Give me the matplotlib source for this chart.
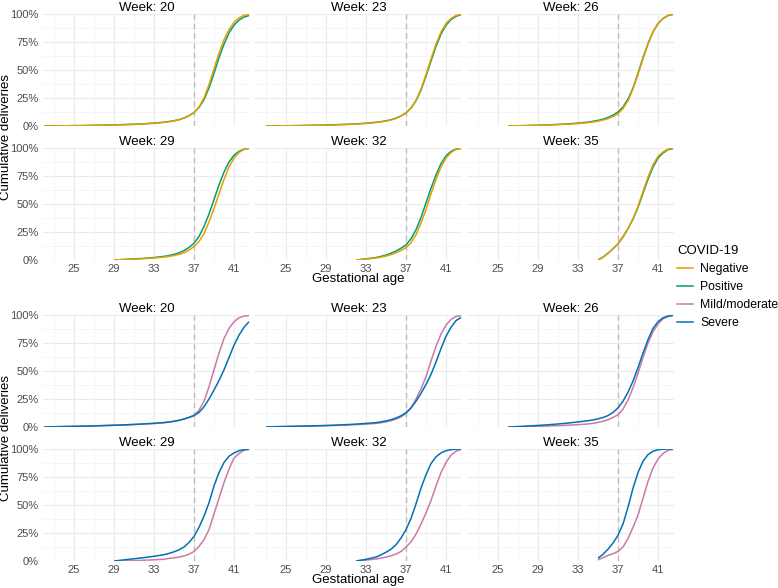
import matplotlib
matplotlib.use('Agg')
import matplotlib.pyplot as plt
from matplotlib.lines import Line2D
import numpy as np

plt.rcParams['font.family'] = ['Liberation Sans', 'DejaVu Sans']

# gestational age grid (weeks); each series covers the tail of it
GA = [22, 23, 24, 25, 26, 27, 28, 29, 30, 31, 32, 33, 34,
      34.5, 35, 35.5, 36, 36.5, 37, 37.5, 38, 38.5, 39, 39.5, 40, 40.5, 41, 41.5, 42, 42.5]

panel_weeks = [20, 23, 26, 29, 32, 35]

# cumulative deliveries (%) - top block
neg_w20 = [0, 0.1, 0.2, 0.3, 0.4, 0.5, 0.7, 0.9, 1.1, 1.4, 1.8, 2.4, 3.2,
           3.8, 4.5, 5.5, 7, 9, 12, 17, 25, 37, 51, 65, 77, 86, 92.5, 96.5, 98.8, 99.7]
pos_w20 = [0, 0.1, 0.2, 0.3, 0.4, 0.6, 0.8, 1.0, 1.3, 1.6, 2.0, 2.6, 3.4,
           4.0, 4.7, 5.7, 7.2, 9.2, 12, 16.5, 23.5, 34, 47, 61, 73, 83, 90, 94.5, 97.3, 98.6]
neg_w23 = [0, 0.1, 0.2, 0.3, 0.4, 0.6, 0.8, 1.0, 1.3, 1.7, 2.3, 3.1,
           3.7, 4.4, 5.4, 6.8, 8.8, 11.5, 16, 23, 33, 46, 60, 73, 84, 91.5, 96, 98.7, 99.7]
pos_w23 = [0, 0.1, 0.2, 0.3, 0.5, 0.7, 0.9, 1.2, 1.5, 1.9, 2.5, 3.3,
           3.9, 4.6, 5.6, 7.0, 9.0, 11.8, 16, 22.5, 32, 44.5, 58, 71, 82, 90, 95, 98, 99.4]
neg_w26 = [0, 0.2, 0.4, 0.6, 0.9, 1.2, 1.6, 2.2, 3.0,
           3.6, 4.3, 5.3, 6.6, 8.5, 11, 15.5, 22.5, 33, 46, 60, 73, 84, 91.5, 96, 98.7, 99.7]
pos_w26 = [0, 0.2, 0.4, 0.7, 1.0, 1.4, 1.9, 2.6, 3.5,
           4.2, 5.0, 6.1, 7.6, 9.7, 12.5, 17, 24, 34, 47, 61, 73.5, 84, 91.5, 96, 98.6, 99.6]
neg_w29 = [0, 0.4, 0.8, 1.2, 1.8, 2.6,
           3.2, 4.0, 5.0, 6.5, 8.8, 12, 16.5, 23.5, 34, 46, 59, 72, 83, 91, 96, 98.8, 99.7]
pos_w29 = [0, 0.5, 1.0, 1.5, 2.2, 3.2,
           4.0, 5.0, 6.4, 8.4, 11.2, 15, 21, 30, 41, 54, 67, 78.5, 87.5, 93.5, 97, 99, 99.7]
neg_w32 = [0, 0.8, 1.8,
           2.6, 3.5, 4.8, 6.4, 8.5, 11, 15.5, 22.5, 33, 45, 59, 72, 83, 91, 96, 98.7, 99.7]
pos_w32 = [0, 1.0, 2.2,
           3.2, 4.4, 6.0, 8.0, 10.5, 13.5, 19, 27, 38, 51, 64, 76, 86, 93, 97, 99, 99.7]
neg_w35 = [0, 2.5, 6, 10, 14.5, 21, 28, 37, 48, 61, 74, 85, 92.5, 96.5, 99, 99.8]
pos_w35 = [0, 2.6, 6, 10, 14.5, 20.5, 28, 36.5, 47, 59.5, 72, 83, 91, 95.5, 98.5, 99.5]

# cumulative deliveries (%) - bottom block
mild_w20 = [0, 0.2, 0.4, 0.6, 0.8, 1.0, 1.2, 1.5, 1.8, 2.2, 2.6, 3.1, 3.8,
            4.3, 5.0, 5.8, 7, 8.5, 10.5, 15, 23, 36, 51, 66, 79, 88, 94, 97.5, 99, 99.6]
sev_w20 = [0, 0.2, 0.4, 0.6, 0.8, 1.0, 1.3, 1.6, 1.9, 2.3, 2.8, 3.3, 4.0,
           4.5, 5.2, 6.0, 7.2, 8.6, 10.2, 13, 18, 25, 33, 41.5, 51, 62, 73, 82, 89, 94]
mild_w23 = [0, 0.2, 0.4, 0.5, 0.7, 0.9, 1.1, 1.4, 1.7, 2.1, 2.6, 3.2,
            3.8, 4.6, 5.6, 7, 9, 12, 17, 25, 34, 45, 59, 72, 83, 91, 96, 98.7, 99.5]
sev_w23 = [0, 0.3, 0.5, 0.7, 0.9, 1.1, 1.4, 1.7, 2.1, 2.6, 3.2, 3.9,
           4.6, 5.4, 6.5, 8, 10, 12.8, 17, 23, 30, 38, 47, 58, 70, 81, 89, 95, 97.8]
mild_w26 = [0, 0.2, 0.4, 0.6, 0.9, 1.2, 1.6, 2.1, 2.7,
            3.3, 4.1, 5.1, 6.5, 8.5, 11, 16, 24, 35, 48, 62, 75, 85, 92, 96.5, 98.7, 99.6]
sev_w26 = [0, 0.4, 0.9, 1.4, 2.0, 2.7, 3.5, 4.5, 5.6,
           6.3, 7.2, 8.5, 10.2, 13, 17, 23, 31, 41, 53, 66, 78, 88, 94, 97.5, 99, 99.6]
mild_w29 = [0, 0.3, 0.7, 1.1, 1.6, 2.3,
            2.8, 3.5, 4.5, 6, 8.5, 13, 19, 28, 42, 56, 70, 82, 92, 96, 98.8, 99.7]
sev_w29 = [0, 1.0, 2.0, 3.0, 4.2, 5.6,
           6.8, 8.2, 10, 12.5, 16.5, 22, 30, 40, 52, 67, 79, 88, 93.5, 96.5, 98.5, 99.5, 99.8]
mild_w32 = [0, 0.8, 1.8,
            2.6, 3.5, 4.7, 6.2, 8.5, 12.5, 17, 24, 33, 43, 54, 67, 79, 88, 94.5, 98, 99.5]
sev_w32 = [0, 1.5, 3.5,
           5.5, 7.8, 10.5, 14.5, 20.5, 28, 38, 51, 65, 77, 87, 93, 96.5, 98.5, 99.4, 99.8, 100]
mild_w35 = [1, 3, 5, 6.5, 8.5, 12.5, 20, 30, 41, 56, 71, 83, 91, 96, 98.8, 99.7]
sev_w35 = [2.5, 6, 10.5, 16, 23, 33, 48, 65, 79, 89, 95, 98, 99.3, 99.8, 100, 100]

neg_all = [neg_w20, neg_w23, neg_w26, neg_w29, neg_w32, neg_w35]
pos_all = [pos_w20, pos_w23, pos_w26, pos_w29, pos_w32, pos_w35]
mild_all = [mild_w20, mild_w23, mild_w26, mild_w29, mild_w32, mild_w35]
sev_all = [sev_w20, sev_w23, sev_w26, sev_w29, sev_w32, sev_w35]

colors = {'Negative': '#E69F00', 'Positive': '#009E73',
          'Mild/moderate': '#CC79A7', 'Severe': '#0072B2'}

W, H = 778, 588
fig = plt.figure(figsize=(W / 100, H / 100), dpi=100)


def px_axes(left, top, w, h):
    return fig.add_axes([left / W, 1 - (top + h) / H, w / W, h / H])


col_left = [43, 255, 467]
pw, ph = 207, 112
row_tops = [[14, 148], [315, 449]]
# drawing order: first is drawn underneath
groups = [(['Positive', 'Negative'], [pos_all, neg_all]),
          (['Mild/moderate', 'Severe'], [mild_all, sev_all])]

for g, (names, series) in enumerate(groups):
    for k, wk in enumerate(panel_weeks):
        r, c = divmod(k, 3)
        ax = px_axes(col_left[c], row_tops[g][r], pw, ph)
        ax.set_xlim(21.9, 42.6)
        ax.set_ylim(0, 100)
        ax.set_xticks([25, 29, 33, 37, 41])
        ax.set_xticks([23, 27, 31, 35, 39], minor=True)
        ax.set_yticks([0, 25, 50, 75, 100])
        ax.set_yticks([12.5, 37.5, 62.5, 87.5], minor=True)
        ax.grid(which='major', color='#EBEBEB', lw=0.8)
        ax.grid(which='minor', color='#F2F2F2', lw=0.5)
        ax.set_axisbelow(True)
        for s in ax.spines.values():
            s.set_visible(False)
        ax.tick_params(which='both', length=0, labelsize=8, labelcolor='#4D4D4D', pad=3)
        if c == 0:
            ax.set_yticklabels(['0%', '25%', '50%', '75%', '100%'])
        else:
            ax.set_yticklabels([])
        if r == 0:
            ax.set_xticklabels([])
        ax.axvline(37, color='#BDBDBD', lw=1.0, ls=(0, (4, 3)), zorder=1)
        for name, s in zip(names, series):
            vals = s[k]
            x = GA[-len(vals):]
            ax.plot(x, np.array(vals), color=colors[name], lw=1.1, zorder=3,
                    solid_capstyle='butt')
        ax.set_title('Week: %d' % wk, fontsize=9.5, pad=2)

    # axis titles for the block
    top = row_tops[g][0]
    bot = row_tops[g][1] + ph
    fig.text(6 / W, 1 - (top + bot) / 2 / H, 'Cumulative deliveries', rotation=90,
             ha='center', va='center', fontsize=9.5)
    fig.text((col_left[1] + pw / 2) / W, 1 - (bot + 19) / H, 'Gestational age',
             ha='center', va='center', fontsize=9.5)

handles = [Line2D([], [], color=colors[n], lw=1.1) for n in colors]
fig.legend(handles, list(colors), title='COVID-19', loc='upper left',
           bbox_to_anchor=(677 / W, 1 - 245 / H), frameon=False, fontsize=8.8,
           title_fontsize=9.5, handlelength=1.3, handletextpad=0.6,
           labelspacing=0.5, alignment='left', borderaxespad=0, borderpad=0)

fig.savefig('out.png', dpi=100)
